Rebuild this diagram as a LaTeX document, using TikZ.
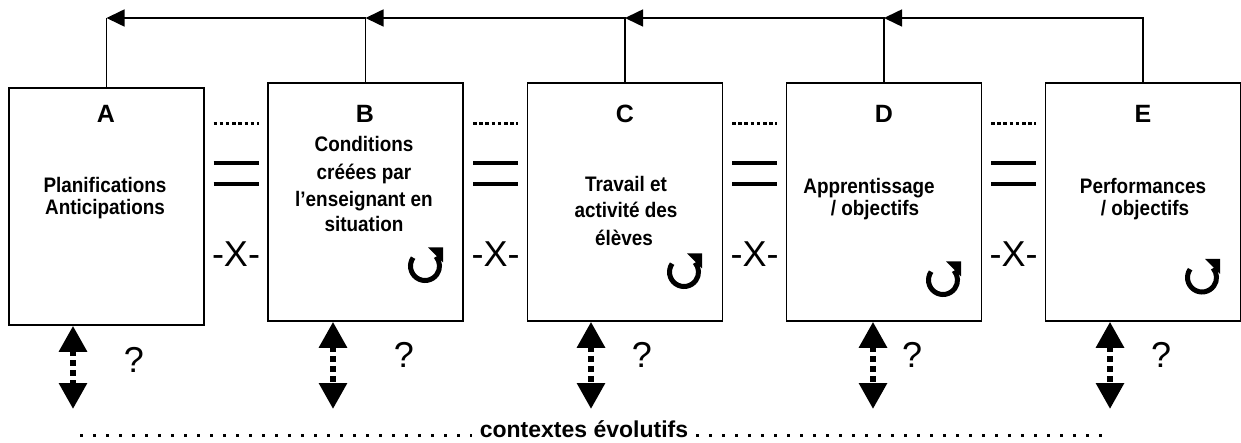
\documentclass[tikz,border=0pt]{standalone}
\usepackage{fontspec}
\setmainfont{Liberation Sans}
\usetikzlibrary{arrows.meta}
\begin{document}
\begin{tikzpicture}[x=1pt,y=-1pt,
  box/.style={draw, line width=1.6pt, minimum width=195pt, inner sep=0pt},
  fb/.style={line width=1.6pt, -{Triangle[length=18pt,width=17pt]}},
  ttl/.style={font=\bfseries\fontsize{25}{28}\selectfont, inner sep=0pt, anchor=base},
  body/.style={font=\bfseries\fontsize{21}{25}\selectfont, inner sep=0pt, anchor=base, xscale=0.9, transform shape},
  sym/.style={font=\fontsize{36}{40}\selectfont, inner sep=0pt, anchor=base},
  dots/.style={line width=3pt, dash pattern=on 3.5pt off 2.7pt},
  eq/.style={line width=4pt},
  dbl/.style={line width=6pt, dash pattern=on 6pt off 4pt,
    {Triangle[length=26pt,width=27pt]}-{Triangle[length=26pt,width=27pt]}},
  cyc/.style={line width=5pt},
  lead/.style={line width=3pt, dash pattern=on 3pt off 10pt}
]
\useasboundingbox (0,0) rectangle (1241,443);

% boxes
\node[box, minimum height=237pt] (A) at (106.5,206.5) {};
\node[box, minimum height=238pt] (B) at (365.5,202) {};
\node[box, minimum height=238pt] (C) at (625,202) {};
\node[box, minimum height=238pt] (D) at (884,202) {};
\node[box, minimum height=238pt] (E) at (1143,202) {};

% feedback arrows on top
\coordinate (top) at (0,18);
\draw[fb] (E.north) -- (E.north |- top) -- (D.north |- top);
\draw[fb] (D.north) -- (D.north |- top) -- (C.north |- top);
\draw[fb] (C.north) -- (C.north |- top) -- (B.north |- top);
\draw[fb] (B.north) -- (B.north |- top) -- (A.north |- top);
\draw[line width=1.6pt] (A.north) -- (A.north |- top);

% titles
\node[ttl] (tA) at (106,123) {A};
\node[ttl] (tB) at (365,123) {B};
\node[ttl] (tC) at (625,123) {C};
\node[ttl] (tD) at (884,123) {D};
\node[ttl] (tE) at (1143,123) {E};

% texts
\node[body] (a1) at (105,193) {Planifications};
\node[body] (a2) at (105,215) {Anticipations};
\node[body] (b1) at (364,152) {Conditions};
\node[body] (b2) at (364,180) {créées par};
\node[body] (b3) at (364,207) {l’enseignant en};
\node[body] (b4) at (364,232) {situation};
\node[body] (c1) at (626,192) {Travail et};
\node[body] (c2) at (626,218) {activité des};
\node[body] (c3) at (624,246) {élèves};
\node[body] (d1) at (869,194) {Apprentissage};
\node[body] (d2) at (875,216) {/ objectifs};
\node[body] (e1) at (1143,194) {Performances};
\node[body] (e2) at (1145,216) {/ objectifs};

% separators
\foreach \g/\n in {236/1,495.5/2,754.5/3,1013.5/4}{
  \draw[dots] (\g-22.5,124) -- (\g+22.5,124);
  \draw[eq] (\g-22.5,163) -- (\g+22.5,163);
  \draw[eq] (\g-22.5,184) -- (\g+22.5,184);
  \node[sym] (x\n) at (\g,267) {-X-};
}

% cycle symbols
\foreach \n/\cx/\cy in {B/425/266,C/684/272,D/943/280,E/1202/277.5}{
  \coordinate (cy\n) at (\cx,\cy);
  \draw[cyc] ([shift={(145:14.5pt)}]cy\n) arc[start angle=145, end angle=400, radius=14.5pt];
  \fill ([shift={(3pt,18.5pt)}]cy\n) -- ([shift={(18pt,18.5pt)}]cy\n) -- ([shift={(18pt,3.5pt)}]cy\n) -- cycle;
}

% question marks
\node[sym] (qA) at (134,372) {?};
\node[sym] (qB) at (404,367) {?};
\node[sym] (qC) at (642,367) {?};
\node[sym] (qD) at (912,367) {?};
\node[sym] (qE) at (1161,367) {?};

% double arrows
\coordinate (dA) at (73,409);
\coordinate (dB) at (333,409);
\coordinate (dC) at (591,409);
\coordinate (dD) at (873,409);
\coordinate (dE) at (1110,409);
\draw[dbl] (A.south -| dA) -- (dA);
\draw[dbl] (B.south -| dB) -- (dB);
\draw[dbl] (C.south -| dC) -- (dC);
\draw[dbl] (D.south -| dD) -- (dD);
\draw[dbl] (E.south -| dE) -- (dE);

% bottom
\node[font=\bfseries\fontsize{23}{26}\selectfont, anchor=base, inner sep=0pt] (ctx) at (584,437) {contextes évolutifs};
\coordinate (l0) at (80,435.5);
\coordinate (r0) at (1104,435.5);
\draw[lead] (l0) -- ([xshift=-8pt]ctx.west |- l0);
\draw[lead] ([xshift=8pt]ctx.east |- r0) -- (r0);
\end{tikzpicture}
\end{document}
